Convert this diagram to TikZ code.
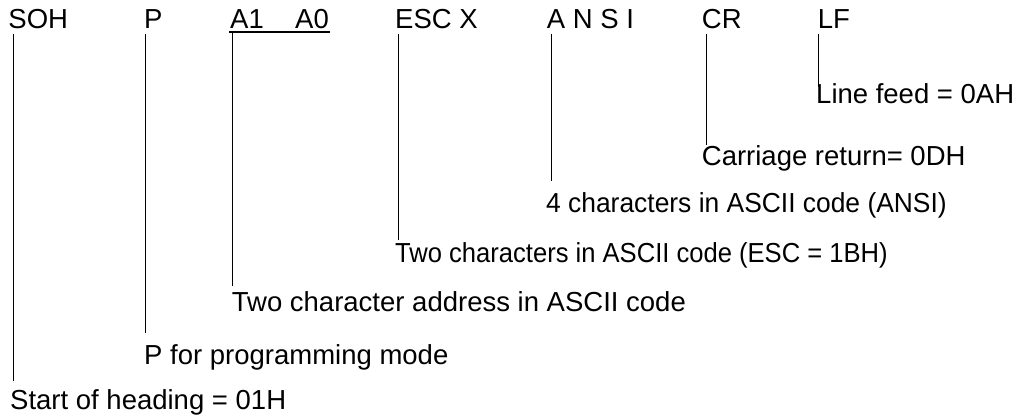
\documentclass[tikz,border=0pt]{standalone}
\usepackage{fontspec}
\setmainfont{Liberation Sans}
\tikzset{
  lbl/.style={anchor=base west,inner sep=0pt,font=\fontsize{27.5}{32}\selectfont},
  narrow/.style={xscale=#1,transform shape},
  conn/.style={line width=1pt},
}
\begin{document}
\begin{tikzpicture}[x=1pt,y=-1pt]
\useasboundingbox (0,0) rectangle (1019,417);
% the frame characters
\node[lbl] (soh) at (8.3,29) {SOH};
\node[lbl] (p) at (144,29) {P};
\node[lbl] (a1) at (230,29) {A1};
\node[lbl] (a0) at (295,29) {A0};
\node[lbl] (esc) at (395,29) {ESC X};
\node[lbl] (ansi) at (546.7,29) {A N S I};
\node[lbl] (cr) at (701.7,29) {CR};
\node[lbl] (lf) at (817.7,29) {LF};
\draw[line width=1.6pt] ([shift={(-1,3)}]a1.base west) -- ([shift={(1,3)}]a0.base east);
% what they mean
\node[lbl] (llf) at (816,103) {Line feed = 0AH};
\node[lbl] (lcr) at (701.7,165) {Carriage return= 0DH};
\node[lbl,narrow=0.96] (lansi) at (546,212) {4 characters in ASCII code (ANSI)};
\node[lbl,narrow=0.93] (lesc) at (395,262) {Two characters in ASCII code (ESC = 1BH)};
\node[lbl] (la1) at (231.7,311) {Two character address in ASCII code};
\node[lbl] (lp) at (144,364) {P for programming mode};
\node[lbl] (lsoh) at (10,409) {Start of heading = 01H};
% leaders
\draw[conn] ([shift={(5,5)}]soh.base west) -- ([shift={(5,-8)}]soh.base west |- lsoh.north);
\draw[conn] ([shift={(1.7,5)}]p.base west) -- ([shift={(1.7,-11)}]p.base west |- lp.north);
\draw[conn] ([shift={(2.3,3)}]a1.base west) -- ([shift={(2.3,-5)}]a1.base west |- la1.north);
\draw[conn] ([shift={(3.3,5)}]esc.base west) -- ([shift={(3.3,-2)}]esc.base west |- lesc.north);
\draw[conn] ([shift={(4.3,5)}]ansi.base west) -- ([shift={(4.3,-11)}]ansi.base west |- lansi.north);
\draw[conn] ([shift={(4.3,5)}]cr.base west) -- ([shift={(4.3,0)}]cr.base west |- lcr.north);
\draw[conn] ([shift={(0.6,5)}]lf.base west) -- ([shift={(0.6,4)}]lf.base west |- llf.north);
\end{tikzpicture}
\end{document}
